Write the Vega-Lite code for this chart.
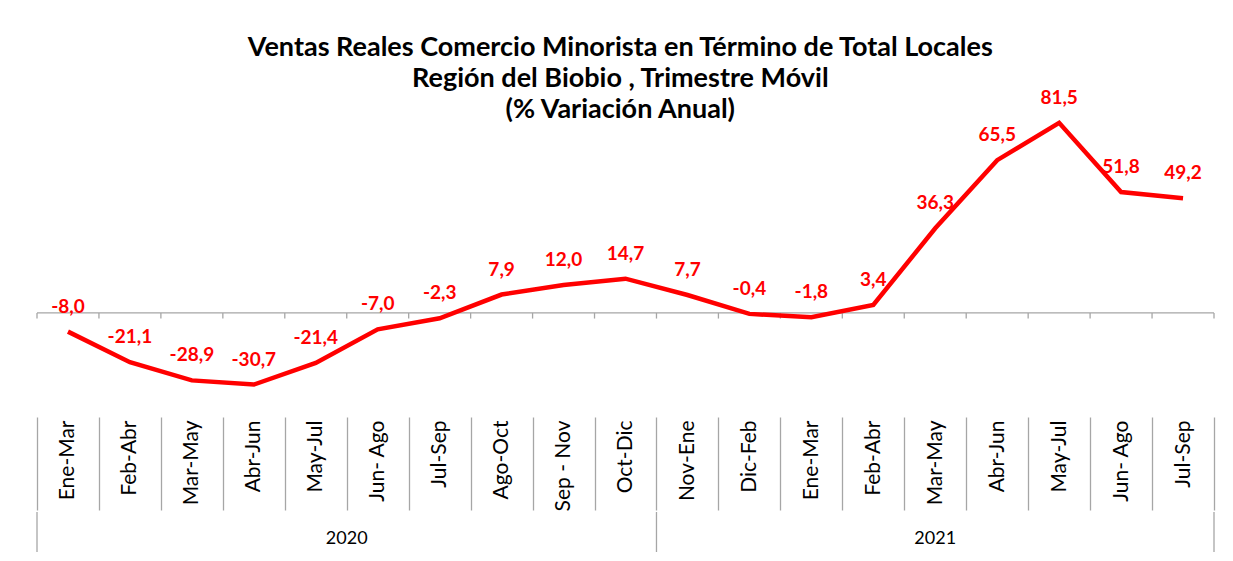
{
  "$schema": "https://vega.github.io/schema/vega-lite/v6.json",
  "padding": {"left": 26, "top": 33, "right": 20, "bottom": 0},
  "autosize": {"type": "pad"},
  "background": "white",
  "config": {
    "font": "Lato",
    "view": {"stroke": null},
    "locale": {"number": {"decimal": ",", "thousands": ".", "grouping": [3], "currency": ["$", ""], "minus": "-"}},
    "concat": {"spacing": 0}
  },
  "title": {
    "text": ["Ventas Reales Comercio Minorista  en Término de Total Locales", "Región del Biobio , Trimestre Móvil", "(% Variación Anual)"],
    "fontSize": 27,
    "fontWeight": "bold",
    "lineHeight": 31,
    "anchor": "middle",
    "color": "#000000",
    "offset": -35
  },
  "resolve": {"scale": {"x": "independent"}},
  "datasets": {
    "ventas": [
      {"key": "2020|Ene-Mar", "value": -8.0},
      {"key": "2020|Feb-Abr", "value": -21.1},
      {"key": "2020|Mar-May", "value": -28.9},
      {"key": "2020|Abr-Jun", "value": -30.7},
      {"key": "2020|May-Jul", "value": -21.4},
      {"key": "2020|Jun- Ago", "value": -7.0},
      {"key": "2020|Jul-Sep", "value": -2.3},
      {"key": "2020|Ago-Oct", "value": 7.9},
      {"key": "2020|Sep - Nov", "value": 12.0},
      {"key": "2020|Oct-Dic", "value": 14.7},
      {"key": "2021|Nov-Ene", "value": 7.7},
      {"key": "2021|Dic-Feb", "value": -0.4},
      {"key": "2021|Ene-Mar", "value": -1.8},
      {"key": "2021|Feb-Abr", "value": 3.4},
      {"key": "2021|Mar-May", "value": 36.3},
      {"key": "2021|Abr-Jun", "value": 65.5},
      {"key": "2021|May-Jul", "value": 81.5},
      {"key": "2021|Jun- Ago", "value": 51.8},
      {"key": "2021|Jul-Sep", "value": 49.2}
    ],
    "years": [
      {"year": "2020", "from": 0, "to": 10, "mid": 5},
      {"year": "2021", "from": 10, "to": 19, "mid": 14.5}
    ]
  },
  "vconcat": [
    {
      "width": 1177,
      "height": 314,
      "data": {"name": "ventas"},
      "layer": [
        {
          "data": {"values": [{}]},
          "mark": {"type": "rule", "color": "#a6a6a6", "strokeWidth": 1.3},
          "encoding": {
            "y": {"datum": 0, "type": "quantitative", "scale": {"domain": [-44.6, 90], "nice": false, "zero": false}, "axis": null}
          }
        },
        {
          "mark": {"type": "rule", "color": "#a6a6a6", "strokeWidth": 1.3},
          "encoding": {
            "x": {"field": "key", "type": "ordinal", "sort": null, "bandPosition": 0},
            "y": {"datum": 0, "type": "quantitative"},
            "y2": {"datum": -2.4}
          }
        },
        {
          "transform": [{"filter": "datum.key == '2021|Jul-Sep'"}],
          "mark": {"type": "rule", "color": "#a6a6a6", "strokeWidth": 1.3},
          "encoding": {
            "x": {"field": "key", "type": "ordinal", "sort": null, "bandPosition": 1},
            "y": {"datum": 0, "type": "quantitative"},
            "y2": {"datum": -2.4}
          }
        },
        {
          "mark": {"type": "line", "color": "#ff0000", "strokeWidth": 4.5},
          "encoding": {
            "x": {
              "field": "key", "type": "ordinal", "sort": null,
              "scale": {"paddingInner": 0, "paddingOuter": 0},
              "axis": {
                "title": null, "domain": false, "grid": false,
                "ticks": true, "tickBand": "extent", "tickSize": 93, "tickColor": "#a6a6a6", "tickWidth": 1.3,
                "labelAngle": -90, "labelAlign": "right", "labelBaseline": "middle",
                "labelPadding": -90, "labelFontSize": 21, "labelColor": "#000000", "labelOverlap": false,
                "labelExpr": "split(datum.label, '|')[1]"
              }
            },
            "y": {"field": "value", "type": "quantitative"}
          }
        },
        {
          "mark": {"type": "text", "color": "#ff0000", "fontWeight": "bold", "fontSize": 19, "baseline": "middle", "dy": -25},
          "encoding": {
            "x": {"field": "key", "type": "ordinal", "sort": null},
            "y": {"field": "value", "type": "quantitative"},
            "text": {"field": "value", "type": "quantitative", "format": ".1f"}
          }
        }
      ]
    },
    {
      "width": 1177,
      "height": 40,
      "data": {"name": "years"},
      "layer": [
        {
          "mark": {"type": "rule", "color": "#a6a6a6", "strokeWidth": 1.3},
          "encoding": {
            "x": {"field": "from", "type": "quantitative", "scale": {"domain": [0, 19], "nice": false, "zero": false}, "axis": null}
          }
        },
        {
          "transform": [{"filter": "datum.year == '2021'"}],
          "mark": {"type": "rule", "color": "#a6a6a6", "strokeWidth": 1.3},
          "encoding": {
            "x": {"field": "to", "type": "quantitative"}
          }
        },
        {
          "mark": {"type": "text", "fontSize": 18, "color": "#000000", "baseline": "middle", "dy": 7},
          "encoding": {
            "x": {"field": "mid", "type": "quantitative"},
            "text": {"field": "year", "type": "nominal"}
          }
        }
      ]
    }
  ]
}
